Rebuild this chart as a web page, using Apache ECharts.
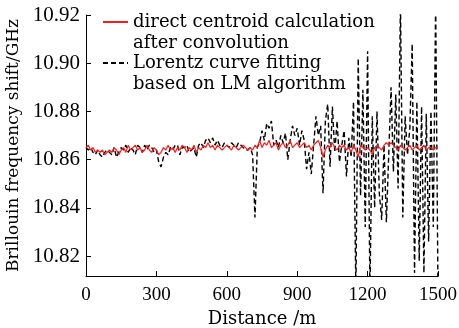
<!DOCTYPE html>
<html>
<head>
<meta charset="utf-8">
<script src="https://cdn.jsdelivr.net/npm/echarts@6/dist/echarts.min.js"></script>
<style>html,body{margin:0;padding:0;background:#fff}#c{width:459px;height:328px}</style>
</head>
<body>
<div id="c"></div>
<script>
// sampling step along the fibre (m)
const step = 10;
const xTicks = [0, 300, 600, 900, 1200, 1500];
const yTicks = [10.82, 10.84, 10.86, 10.88, 10.90, 10.92];
const seriesNames = ['direct centroid calculation\nafter convolution', 'Lorentz curve fitting\nbased on LM algorithm'];

// direct centroid calculation after convolution (GHz), 0..1500 m every 10 m
const centroid = [
  10.865,10.866,10.864,10.865,10.863,10.864,10.863,10.864,10.862,10.863,
  10.864,10.863,10.865,10.864,10.862,10.864,10.865,10.863,10.866,10.864,
  10.865,10.866,10.864,10.865,10.863,10.864,10.866,10.864,10.863,10.865,
  10.864,10.862,10.863,10.865,10.864,10.866,10.864,10.865,10.863,10.865,
  10.864,10.866,10.865,10.863,10.865,10.864,10.866,10.863,10.865,10.864,
  10.866,10.865,10.867,10.865,10.866,10.864,10.866,10.865,10.864,10.865,
  10.866,10.865,10.864,10.866,10.865,10.864,10.865,10.866,10.865,10.864,
  10.865,10.864,10.866,10.865,10.868,10.865,10.867,10.866,10.868,10.865,
  10.866,10.867,10.864,10.866,10.867,10.865,10.866,10.868,10.865,10.866,
  10.867,10.865,10.866,10.867,10.865,10.866,10.864,10.866,10.867,10.868,
  10.865,10.861,10.864,10.866,10.865,10.867,10.865,10.864,10.866,10.865,
  10.866,10.864,10.865,10.863,10.866,10.864,10.861,10.866,10.865,10.864,
  10.865,10.864,10.862,10.865,10.866,10.865,10.864,10.866,10.867,10.866,
  10.867,10.866,10.865,10.864,10.866,10.865,10.864,10.865,10.866,10.864,
  10.865,10.866,10.864,10.865,10.866,10.864,10.865,10.865,10.864,10.865,
  10.865
];

// Lorentz curve fitting based on LM algorithm (GHz), 0..1500 m every 10 m
const lorentz = [
  10.865,10.864,10.865,10.863,10.862,10.864,10.862,10.861,10.863,10.864,
  10.863,10.862,10.865,10.861,10.863,10.865,10.864,10.866,10.863,10.865,
  10.864,10.862,10.866,10.865,10.863,10.866,10.864,10.866,10.865,10.863,
  10.864,10.859,10.857,10.861,10.863,10.862,10.865,10.864,10.866,10.866,
  10.862,10.865,10.865,10.866,10.863,10.864,10.865,10.861,10.866,10.867,
  10.865,10.868,10.869,10.867,10.869,10.866,10.868,10.866,10.865,10.867,
  10.866,10.865,10.867,10.866,10.865,10.867,10.866,10.865,10.864,10.864,
  10.865,10.862,10.836,10.865,10.867,10.872,10.868,10.875,10.873,10.876,
  10.866,10.868,10.865,10.870,10.867,10.871,10.860,10.868,10.874,10.870,
  10.873,10.866,10.872,10.868,10.856,10.863,10.854,10.866,10.878,10.870,
  10.874,10.846,10.876,10.883,10.857,10.882,10.863,10.876,10.859,10.866,
  10.872,10.853,10.869,10.861,10.884,10.805,10.902,10.845,10.889,10.832,
  10.905,10.805,10.878,10.840,10.880,10.846,10.835,10.866,10.834,10.862,
  10.890,10.855,10.887,10.848,10.925,10.836,10.878,10.862,10.873,10.908,
  10.813,10.884,10.818,10.882,10.813,10.879,10.826,10.880,10.832,10.925,
  10.805
];

const toPairs = arr => arr.map((v, i) => [i * step, v]);
const isYTick = v => yTicks.some(t => Math.abs(t - v) < 1e-6);

const chart = echarts.init(document.getElementById('c'), null, {renderer: 'canvas'});
const serif = 'DejaVu Serif';
const numFont = "'Liberation Serif', 'Times New Roman', serif";
chart.setOption({
  animation: false,
  backgroundColor: '#fff',
  grid: {left: 86, right: 21, top: 15, bottom: 52, containLabel: false, outerBoundsMode: 'none'},
  legend: {
    left: 102, top: -9.5, padding: 0, orient: 'vertical',
    itemWidth: 25, itemHeight: 14, itemGap: -22,
    data: seriesNames,
    formatter: name => '\n' + name,
    itemStyle: {opacity: 0},
    textStyle: {fontFamily: serif, fontSize: 18, color: '#000', lineHeight: 21}
  },
  xAxis: {
    type: 'value', min: 0, max: 1500, interval: 300,
    name: 'Distance /m', nameLocation: 'middle', nameGap: 23,
    nameTextStyle: {fontFamily: serif, fontSize: 18, color: '#000', verticalAlign: 'top'},
    axisLine: {show: true, lineStyle: {color: '#000', width: 1}},
    axisTick: {show: true, inside: true, length: 5, lineStyle: {color: '#000'}},
    axisLabel: {fontFamily: numFont, fontSize: 19, color: '#000', margin: 10,
      formatter: v => String(v)},
    splitLine: {show: false}
  },
  yAxis: {
    type: 'value', min: 10.8117, max: 10.92, splitNumber: 5,
    name: 'Brillouin frequency shift/GHz', nameLocation: 'middle', nameGap: 61,
    nameTextStyle: {fontFamily: serif, fontSize: 17, color: '#000'},
    axisLine: {show: true, lineStyle: {color: '#000', width: 1}},
    axisTick: {show: true, inside: true, length: 5, lineStyle: {color: '#000'}},
    axisLabel: {show: true, fontFamily: numFont, fontSize: 21, color: '#000', margin: 6, showMinLabel: false,
      formatter: v => isYTick(v) ? v.toFixed(2) : ''},
    splitLine: {show: false}
  },
  series: [
    {
      name: seriesNames[0], type: 'line', data: toPairs(centroid),
      showSymbol: false, symbol: 'none', clip: true,
      lineStyle: {color: '#ff1a1a', width: 1.2},
      itemStyle: {color: '#ff1a1a'}
    },
    {
      name: seriesNames[1], type: 'line', data: toPairs(lorentz),
      showSymbol: false, symbol: 'none', clip: true, z: 1,
      lineStyle: {color: '#000', width: 1.4, type: [5, 3]},
      itemStyle: {color: '#000'}
    }
  ]
});
</script>
</body>
</html>
